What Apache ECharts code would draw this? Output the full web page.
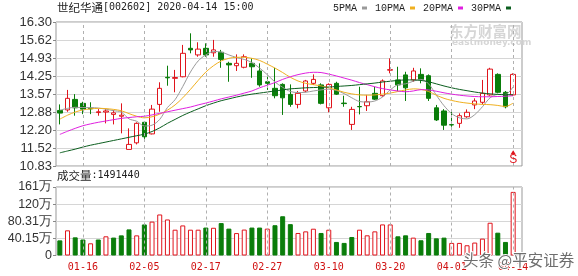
<!DOCTYPE html>
<html><head><meta charset="utf-8">
<script src="https://cdn.jsdelivr.net/npm/echarts@6/dist/echarts.min.js"></script>
<style>html,body{margin:0;padding:0;background:#fff}#c{width:578px;height:276px}</style>
</head><body><div id="c"></div>
<script>
// ---- data ----
const dates = ['01-13','01-14','01-15','01-16','01-17','01-20','01-21','01-22','01-23',
  '02-03','02-04','02-05','02-06','02-07','02-10','02-11','02-12','02-13','02-14','02-17','02-18','02-19','02-20','02-21','02-24','02-25','02-26','02-27','02-28',
  '03-02','03-03','03-04','03-05','03-06','03-09','03-10','03-11','03-12','03-13','03-16','03-17','03-18','03-19','03-20','03-23','03-24','03-25','03-26','03-27','03-30','03-31',
  '04-01','04-02','04-03','04-07','04-08','04-09','04-10','04-13','04-14'];
const opens  = [12.94,12.96,13.36,13.21,13.02,12.86,12.88,12.79,12.72,11.46,11.71,12.49,12.05,13.17,14.20,14.16,14.22,15.30,15.05,15.30,15.13,15.15,14.73,14.64,14.58,14.73,14.44,14.03,13.78,13.93,13.55,13.17,13.68,13.97,13.91,13.04,13.97,13.22,12.41,13.09,13.12,13.59,13.50,14.47,14.10,14.29,14.10,14.31,14.26,13.04,12.92,12.40,12.45,12.70,13.15,13.25,13.53,14.31,13.63,13.53];
const closes = [12.84,13.40,13.04,12.99,13.00,12.89,12.92,12.85,12.76,11.65,12.45,11.94,12.99,13.78,14.18,14.19,15.11,15.24,15.27,15.05,15.24,14.88,14.67,14.73,14.98,14.60,13.91,13.97,13.50,13.42,13.17,13.59,14.06,14.12,13.21,13.93,13.56,13.20,12.98,13.08,13.27,13.37,14.06,14.49,13.91,13.80,14.44,14.12,13.40,12.58,12.38,12.39,12.74,12.87,13.30,13.59,14.51,13.63,13.08,14.31];
const lows   = [12.41,12.89,12.74,12.80,12.80,12.74,12.45,12.41,12.07,11.46,11.65,11.86,12.03,12.89,13.88,13.63,14.20,15.11,14.98,14.98,14.98,14.56,14.03,14.44,14.54,14.18,13.84,13.72,13.40,12.77,13.08,13.02,13.63,13.91,13.17,12.87,13.53,13.08,12.20,12.79,12.92,13.34,13.46,14.35,13.68,13.30,14.03,13.97,13.30,12.54,12.20,12.32,12.28,12.66,12.99,13.17,13.50,13.59,13.02,13.50];
const highs  = [13.17,13.72,13.56,13.27,13.25,12.99,12.99,12.96,13.21,12.26,12.49,12.54,13.15,14.01,14.64,14.48,15.43,15.87,15.53,15.49,15.62,15.24,14.79,15.07,15.07,14.92,14.73,14.22,14.56,13.97,13.93,13.68,14.10,14.31,13.97,13.97,14.03,13.50,13.08,13.84,13.53,13.84,14.12,14.92,14.60,14.41,14.56,14.54,14.31,13.15,12.99,12.89,12.83,12.98,13.40,14.10,14.56,14.35,13.68,14.35];
const volumes = [355000,590000,426000,375000,286000,375000,450000,420000,472000,612000,472000,728000,795000,962000,845000,605000,705000,605000,605000,655000,650000,760000,630000,526000,608000,655000,655000,630000,710000,
  920000,735000,528000,566000,628000,528000,605000,318000,295000,434000,605000,473000,566000,729000,729000,450000,473000,419000,357000,528000,403000,419000,
  295000,295000,240000,303000,396000,768000,535000,318000,1491440];
const ma5  = [12.95,13.02,13.06,13.05,13.05,13.03,12.99,12.93,12.88,12.62,12.53,12.35,12.38,12.60,13.05,13.35,13.85,14.40,14.82,15.05,15.18,15.16,15.05,14.95,14.88,14.76,14.55,14.30,14.02,13.82,13.66,13.62,13.63,13.68,13.72,13.75,13.70,13.58,13.42,13.28,13.26,13.30,13.45,13.72,13.92,13.95,14.05,14.12,13.95,13.52,13.12,12.82,12.66,12.62,12.78,13.08,13.42,13.55,13.55,13.84];
const ma10 = [12.61,12.76,12.88,12.96,13.00,13.02,13.01,12.98,12.93,12.82,12.72,12.66,12.70,12.80,12.95,13.15,13.42,13.74,14.08,14.40,14.64,14.82,14.92,14.96,14.96,14.92,14.84,14.70,14.55,14.38,14.20,14.06,13.97,13.92,13.87,13.80,13.72,13.63,13.57,13.53,13.52,13.53,13.56,13.60,13.66,13.72,13.76,13.74,13.66,13.52,13.40,13.32,13.26,13.22,13.19,13.17,13.16,13.13,13.09,13.22];
const ma20 = [12.03,12.15,12.26,12.36,12.43,12.49,12.54,12.59,12.64,12.67,12.70,12.72,12.77,12.83,12.89,12.95,13.01,13.07,13.15,13.22,13.30,13.38,13.45,13.52,13.60,13.68,13.80,13.90,14.00,14.12,14.22,14.30,14.36,14.39,14.38,14.32,14.25,14.17,14.09,14.00,13.92,13.84,13.77,13.72,13.68,13.65,13.68,13.73,13.72,13.67,13.61,13.56,13.52,13.49,13.47,13.46,13.46,13.47,13.48,13.50];
const ma30 = [11.33,11.40,11.47,11.55,11.62,11.68,11.74,11.80,11.86,11.92,11.98,12.04,12.14,12.28,12.45,12.60,12.75,12.88,13.00,13.12,13.22,13.31,13.38,13.45,13.51,13.56,13.60,13.64,13.68,13.72,13.76,13.78,13.80,13.81,13.82,13.83,13.85,13.87,13.89,13.92,13.95,13.98,14.02,14.05,14.08,14.10,14.10,14.08,14.03,13.95,13.87,13.80,13.74,13.69,13.64,13.60,13.57,13.55,13.54,13.54];
const priceTicks = ['10.83','11.52','12.20','12.88','13.57','14.25','14.93','15.62','16.30'];
const volTicks = ['0','40.15万','80.31万','120万','161万'];
const dateLabels = ['01-16','02-05','02-17','02-27','03-10','03-20','04-01','04-14'];
const maNames = ['5PMA','10PMA','20PMA','30PMA'];
const stockTitle = '世纪华通';
const stockInfo = '[002602] 2020-04-14 15:00';
const lastVolume = 1491440;

// ---- chart ----
const upColor = '#e0141c', downColor = '#0a7d0a';
const maColors = ['#9a9a9a', '#f0b020', '#e020e0', '#0b5e1e'];
const pMin = 10.83, pMax = 16.30, pInt = (pMax - pMin) / 8;
const vMax = 1606200, vInt = vMax / 4;
const labelSet = new Set(dateLabels);

const candleData = dates.map((d, i) => [opens[i], closes[i], lows[i], highs[i]]);
const volData = volumes.map((v, i) => {
  const ref = i > 0 ? closes[i - 1] : opens[i];
  const up = closes[i] >= ref;
  return { value: v, itemStyle: up ? { color: '#fff', borderColor: upColor, borderWidth: 1 } : { color: downColor, borderColor: downColor, borderWidth: 1 } };
});
const vLines = dateLabels.map(d => ({ xAxis: d }));
const dashStyle = { type: [3, 3], color: '#b0b0b0', width: 1 };
const monoFont = "'DejaVu Sans Mono', 'Liberation Mono', monospace";
const serifMono = "'Liberation Mono', monospace";
const cjkFont = "'Noto Sans CJK SC', sans-serif";
const sansFont = "'Liberation Sans', Arial, sans-serif";

const chart = echarts.init(document.getElementById('c'), null, { renderer: 'canvas' });
chart.setOption({
  animation: false,
  backgroundColor: '#fff',
  grid: [
    { left: 56, top: 22, width: 461, height: 144 },
    { left: 56, top: 22, width: 466, height: 144, show: true, borderColor: '#999', borderWidth: 1 },
    { left: 56, top: 187, width: 461, height: 68.5 },
    { left: 56, top: 187, width: 466, height: 68.5, show: true, borderColor: '#999', borderWidth: 1 }
  ],
  xAxis: [
    { type: 'category', gridIndex: 0, data: dates, axisLine: { show: false }, axisTick: { show: false }, axisLabel: { show: false }, splitLine: { show: false } },
    { type: 'value', gridIndex: 1, show: false, min: 0, max: 1 },
    { type: 'category', gridIndex: 2, data: dates, axisLine: { show: false }, axisTick: { show: false }, splitLine: { show: false },
      axisLabel: { interval: (i, v) => labelSet.has(v), color: '#d01010', fontFamily: monoFont, fontSize: 10, margin: 7 } },
    { type: 'value', gridIndex: 3, show: false, min: 0, max: 1 }
  ],
  yAxis: [
    { type: 'value', gridIndex: 0, min: pMin, max: pMax, show: false },
    { type: 'value', gridIndex: 1, min: pMin, max: pMax, interval: pInt,
      axisLine: { show: false }, axisTick: { show: true, length: 3, lineStyle: { color: '#888' } },
      axisLabel: { formatter: v => priceTicks[Math.round((v - pMin) / pInt)], color: '#333', fontSize: 13, fontFamily: sansFont, margin: 4 },
      splitLine: { show: true, lineStyle: { color: '#d6d6d6', width: 1 } } },
    { type: 'value', gridIndex: 2, min: 0, max: vMax, show: false },
    { type: 'value', gridIndex: 3, min: 0, max: vMax, interval: vInt,
      axisLine: { show: false }, axisTick: { show: true, length: 3, lineStyle: { color: '#888' } },
      axisLabel: { formatter: v => volTicks[Math.round(v / vInt)], color: '#333', fontSize: 12.5, fontFamily: sansFont, margin: 4 },
      splitLine: { show: true, lineStyle: { color: '#d6d6d6', width: 1 } } }
  ],
  legend: {
    data: maNames, right: 67, top: 3, padding: 0, align: 'right', icon: 'rect', itemWidth: 5, itemHeight: 3, itemGap: 8,
    textStyle: { fontFamily: serifMono, fontSize: 10, color: '#222' }, selectedMode: false
  },
  graphic: [
    { type: 'text', left: 57, top: 2, style: { text: '{a|' + stockTitle + '}{b|' + stockInfo + '}',
      rich: { a: { fontFamily: cjkFont, fontSize: 11.5, fill: '#222' }, b: { fontFamily: monoFont, fontSize: 10, fill: '#222' } } } },
    { type: 'text', left: 57, top: 170, style: { text: '{a|成交量}{b|:' + lastVolume + '}',
      rich: { a: { fontFamily: cjkFont, fontSize: 11.5, fill: '#222' }, b: { fontFamily: monoFont, fontSize: 10, fill: '#222' } } } },
    { type: 'text', left: 449, top: 24, z: 0, style: { text: '东方财富网', fontFamily: cjkFont, fontSize: 14.5, fontWeight: 'bold', fill: '#d6d6d6' } },
    { type: 'text', left: 452, top: 38, z: 0, style: { text: 'eastmoney.com', fontFamily: "'DejaVu Sans', sans-serif", fontSize: 9, fontWeight: 'bold', fill: '#d6d6d6' } },
    { type: 'text', left: 462, top: 251, z: 100, style: { text: '头条 @平安证券', fontFamily: cjkFont, fontSize: 15.5, fill: '#6e6e6e', stroke: '#fff', lineWidth: 2 } }
  ],
  series: [
    { name: 'vgrid1', type: 'line', xAxisIndex: 0, yAxisIndex: 0, data: [], z: 1, silent: true,
      markLine: { silent: true, symbol: 'none', label: { show: false }, lineStyle: dashStyle, data: vLines, animation: false } },
    { name: 'vgrid2', type: 'line', xAxisIndex: 2, yAxisIndex: 2, data: [], z: 1, silent: true,
      markLine: { silent: true, symbol: 'none', label: { show: false }, lineStyle: dashStyle, data: vLines, animation: false } },
    { name: 'K', type: 'candlestick', xAxisIndex: 0, yAxisIndex: 0, data: candleData, barWidth: 5, z: 3,
      itemStyle: { color: '#fff', color0: downColor, borderColor: upColor, borderColor0: downColor, borderWidth: 1 },
      markPoint: { silent: true, animation: false, data: [
        { coord: ['04-14', 11.35], symbol: 'triangle', symbolSize: [5, 4], itemStyle: { color: upColor }, label: { show: false } },
        { coord: ['04-14', 11.08], symbol: 'rect', symbolSize: 1, itemStyle: { color: 'rgba(0,0,0,0)' },
          label: { show: true, position: 'inside', formatter: 'S', color: upColor, fontSize: 12, fontFamily: sansFont } }
      ] } },
    ...[ma5, ma10, ma20, ma30].map((arr, k) => ({
      name: maNames[k], type: 'line', xAxisIndex: 0, yAxisIndex: 0, data: arr, z: 4,
      showSymbol: false, smooth: 0.3, color: maColors[k], lineStyle: { width: 1, color: maColors[k] }
    })),
    { name: 'VOL', type: 'bar', xAxisIndex: 2, yAxisIndex: 2, data: volData, barWidth: 5, z: 3 }
  ]
});
</script></body></html>
